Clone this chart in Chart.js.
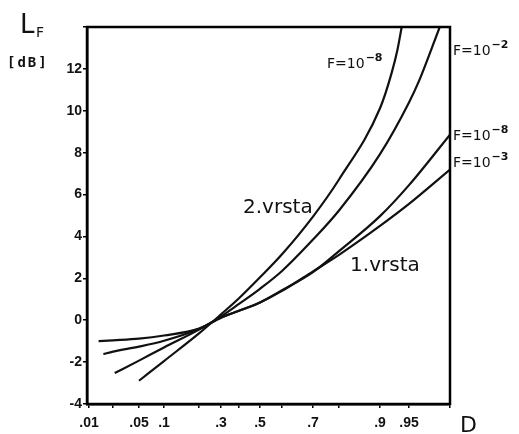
<!DOCTYPE html>
<html>
<head>
<meta charset="utf-8">
<script src="https://cdn.jsdelivr.net/npm/chart.js@4"></script>
<style>
  html,body{margin:0;padding:0;background:#fff;}
  #wrap{width:519px;height:434px;position:relative;}
</style>
</head>
<body>
<div id="wrap"><canvas id="chart_lf"></canvas></div>
<script>
// ---------- data ----------
// x axis is a probability-paper style D axis, tick D values and their place along the axis
const D_TICKS  = [0.01, 0.02, 0.05, 0.1, 0.2, 0.3, 0.4, 0.5, 0.6, 0.7, 0.8, 0.9, 0.95, 0.99];
const D_LABELS = ['.01', '', '.05', '.1', '', '.3', '', '.5', '', '.7', '', '.9', '.95', ''];
const D_AXIS   = [2, 26, 52, 77, 112, 134, 152, 173, 195, 226, 252, 293, 322, 363];

// 2.vrsta, F=10^-8
const a_D  = [0.05, 0.1, 0.2, 0.3, 0.4, 0.5, 0.6, 0.7, 0.8, 0.9, 0.92, 0.93, 0.9374];
const a_dB = [-2.89, -1.95, -0.63, 0.28, 1.05, 2.05, 3.15, 4.95, 6.72, 10.12, 11.8, 12.9, 14];
// 2.vrsta, F=10^-2
const b_D  = [0.022, 0.05, 0.1, 0.2, 0.3, 0.4, 0.5, 0.6, 0.7, 0.8, 0.9, 0.95, 0.96, 0.98];
const b_dB = [-2.52, -1.93, -1.3, -0.45, 0.18, 0.78, 1.5, 2.35, 3.85, 5.24, 7.93, 10.4, 11.45, 14];
// 1.vrsta, F=10^-8
const c_D  = [0.016, 0.02, 0.05, 0.1, 0.2, 0.3, 0.4, 0.5, 0.6, 0.7, 0.8, 0.9, 0.95, 0.99];
const c_dB = [-1.62, -1.5, -1.26, -0.98, -0.42, 0.12, 0.45, 0.85, 1.43, 2.3, 3.3, 4.97, 6.45, 8.86];
// 1.vrsta, F=10^-3
const d_D  = [0.014, 0.02, 0.05, 0.1, 0.2, 0.3, 0.4, 0.5, 0.6, 0.7, 0.8, 0.9, 0.95, 0.99];
const d_dB = [-1.0, -0.96, -0.88, -0.73, -0.4, 0.12, 0.45, 0.85, 1.4, 2.33, 3.12, 4.5, 5.55, 7.19];

const Y_MIN = -4, Y_MAX = 14, Y_STEP = 2;

// ---------- helpers ----------
// D value -> place on the linear x axis (piecewise over the tick table)
function toAxis(d){
  if(d<=D_TICKS[0]) return D_AXIS[0] - (D_TICKS[0]-d)/(D_TICKS[1]-D_TICKS[0])*(D_AXIS[1]-D_AXIS[0]);
  for(let i=1;i<D_TICKS.length;i++){
    if(d<=D_TICKS[i]){
      const t=(d-D_TICKS[i-1])/(D_TICKS[i]-D_TICKS[i-1]);
      return D_AXIS[i-1]+t*(D_AXIS[i]-D_AXIS[i-1]);
    }
  }
  return D_AXIS[D_AXIS.length-1];
}
const points=(xs,ys)=>xs.map((d,i)=>({x:toAxis(d),y:ys[i]}));

function curve(label,xs,ys){
  return {label,data:points(xs,ys),borderColor:'#111',borderWidth:2.2,pointRadius:0,
          fill:false,cubicInterpolationMode:'monotone'};
}

// label text, F=10^n style with superscript
function drawF(ctx,x,y,sup){
  ctx.font='14px "DejaVu Sans"';
  ctx.textAlign='left'; ctx.textBaseline='alphabetic';
  ctx.fillText('F=10',x,y);
  const w=ctx.measureText('F=10').width;
  ctx.font='bold 11px "DejaVu Sans"';
  ctx.fillText(sup,x+w+1,y-7);
}

const textPlugin={
  id:'texts',
  afterDraw(chart){
    const {ctx,chartArea:a,scales:{x,y}}=chart;
    const px=d=>x.getPixelForValue(toAxis(d)), py=v=>y.getPixelForValue(v);
    ctx.save();
    // frame round the plot
    ctx.strokeStyle='#000'; ctx.lineWidth=2.5;
    ctx.strokeRect(a.left,a.top,a.right-a.left,a.bottom-a.top);
    ctx.fillStyle='#111';
    // axis names
    ctx.textAlign='left'; ctx.textBaseline='alphabetic';
    ctx.font='26px "DejaVu Sans"';
    ctx.fillText('L',a.left-67,a.top+6);
    ctx.font='14px "DejaVu Sans"';
    ctx.fillText('F',a.left-51,a.top+10);
    ctx.font='bold 14px "DejaVu Sans Mono"';
    ctx.letterSpacing='2px';
    ctx.fillText('[dB]',a.left-80,a.top+40);
    ctx.letterSpacing='0px';
    ctx.font='22px "DejaVu Sans"';
    ctx.fillText('D',a.right+10,a.bottom+28);
    // curve names
    drawF(ctx,px(0.754),py(12.05),'−8');
    drawF(ctx,a.right+3,py(12.67),'−2');
    drawF(ctx,a.right+3,py(8.62),'−8');
    drawF(ctx,a.right+3,py(7.33),'−3');
    ctx.font='20px "DejaVu Sans"';
    ctx.fillText('2.vrsta',px(0.419),py(5.14));
    ctx.fillText('1.vrsta',px(0.827),py(2.33));
    ctx.restore();
  }
};

// ---------- chart ----------
function makeLF(){
  const ctx=document.getElementById('chart_lf').getContext('2d');
  return new Chart(ctx,{
    type:'line',
    data:{datasets:[
      curve('2.vrsta F=10^-8',a_D,a_dB),
      curve('2.vrsta F=10^-2',b_D,b_dB),
      curve('1.vrsta F=10^-8',c_D,c_dB),
      curve('1.vrsta F=10^-3',d_D,d_dB)
    ]},
    options:{
      animation:false,responsive:true,maintainAspectRatio:false,
      layout:{padding:{left:0,top:27,right:69,bottom:0}},
      scales:{
        x:{type:'linear',min:0,max:363,
           afterBuildTicks:s=>{s.ticks=D_AXIS.map(v=>({value:v}));},
           afterFit:s=>{s.height=30;},
           grid:{display:true,drawOnChartArea:false,tickLength:4,color:'#000',lineWidth:1.5},
           border:{display:true,color:'#000',width:2.5},
           ticks:{autoSkip:false,maxRotation:0,minRotation:0,padding:7,color:'#111',
                  font:{family:'"Liberation Sans"',size:14,weight:'bold'},
                  callback:(v,i)=>D_LABELS[i]}
        },
        y:{min:Y_MIN,max:Y_MAX,
           afterFit:s=>{s.width=87;},
           grid:{display:true,drawOnChartArea:false,tickLength:4,color:'#000',lineWidth:1.5},
           border:{display:true,color:'#000',width:2.5},
           ticks:{stepSize:Y_STEP,padding:1,color:'#111',
                  font:{family:'"Liberation Sans"',size:14,weight:'bold'},
                  callback:v=>v===Y_MAX?'':String(v)}
        }
      },
      plugins:{legend:{display:false},tooltip:{enabled:false}}
    },
    plugins:[textPlugin]
  });
}
makeLF();
</script>
</body>
</html>
